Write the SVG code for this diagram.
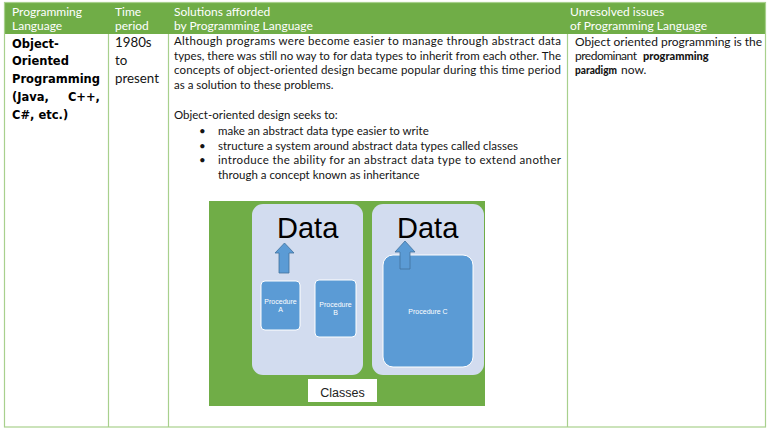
<svg xmlns="http://www.w3.org/2000/svg" width="781" height="436" viewBox="0 0 781 436">
<style>
.hd{font-family:Lato,"Liberation Sans",sans-serif;font-size:12px;fill:#ffffff}
.bd{font-family:Lato,"Liberation Sans",sans-serif;font-size:11.5px;fill:#141414}
.rc{font-family:Lato,"Liberation Sans",sans-serif;font-size:12px;fill:#141414}
.rb{font-family:Lato,"Liberation Sans",sans-serif;font-size:11px;font-weight:900;fill:#141414}
.lc{font-family:"DejaVu Sans",sans-serif;font-size:11.5px;font-weight:bold;fill:#000}
.tp{font-family:Lato,"Liberation Sans",sans-serif;font-size:13.3px;fill:#141414}
.grid{stroke:#a8d08d;stroke-width:1.2;fill:none}
.cls{fill:#d2dcef}
.proc{fill:#5b9bd5;stroke:#ffffff;stroke-width:1}
.arr{fill:#5b9bd5;stroke:#41719c;stroke-width:0.8}
.dt{font-family:"Liberation Sans",Arial,sans-serif;font-size:29px;fill:#000}
.pl{font-family:"Liberation Sans",Arial,sans-serif;font-size:7px;fill:#ffffff;text-anchor:middle}
</style>
<rect width="781" height="436" fill="#ffffff"/>
<g id="table">
<rect x="4" y="2.5" width="762" height="31.5" fill="#70ad47"/>
<rect class="grid" x="4.5" y="2.5" width="761" height="424.5"/>
<line class="grid" x1="108.5" y1="34" x2="108.5" y2="427"/>
<line class="grid" x1="168.5" y1="34" x2="168.5" y2="427"/>
<line class="grid" x1="567.5" y1="34" x2="567.5" y2="427"/>
</g>
<g id="header">
<text class="hd" x="12" y="15.5">Programming</text>
<text class="hd" x="12" y="29.5">Language</text>
<text class="hd" x="115" y="15.5">Time</text>
<text class="hd" x="115" y="29.5">period</text>
<text class="hd" x="174" y="15.5">Solutions afforded</text>
<text class="hd" x="174" y="29.5">by Programming Language</text>
<text class="hd" x="570" y="15.5">Unresolved issues</text>
<text class="hd" x="570" y="29.5">of Programming Language</text>
</g>
<g id="cell-language">
<text class="lc" x="12" y="47.5">Object-</text>
<text class="lc" x="12" y="65.3">Oriented</text>
<text class="lc" x="12" y="83.1">Programming</text>
<text class="lc" x="12" y="100.9">(Java,</text>
<text class="lc" x="100" y="100.9" text-anchor="end">C++,</text>
<text class="lc" x="12" y="118.7">C#, etc.)</text>
</g>
<g id="cell-period">
<text class="tp" x="115" y="47.3">1980s</text>
<text class="tp" x="115" y="65.1">to</text>
<text class="tp" x="115" y="82.9">present</text>
</g>
<g id="cell-solutions">
<text class="bd" x="174" y="45" textLength="387" lengthAdjust="spacing">Although programs were become easier to manage through abstract data</text>
<text class="bd" x="174" y="59.7" textLength="387" lengthAdjust="spacing">types, there was still no way to for data types to inherit from each other. The</text>
<text class="bd" x="174" y="74.4" textLength="387" lengthAdjust="spacing">concepts of object-oriented design became popular during this time period</text>
<text class="bd" x="174" y="89.1">as a solution to these problems.</text>
<text class="bd" x="174" y="119.3">Object-oriented design seeks to:</text>
<text class="bd" x="199" y="134.8">•</text>
<text class="bd" x="218" y="134.8">make an abstract data type easier to write</text>
<text class="bd" x="199" y="149.6">•</text>
<text class="bd" x="218" y="149.6">structure a system around abstract data types called classes</text>
<text class="bd" x="199" y="164.4">•</text>
<text class="bd" x="218" y="164.4" textLength="343" lengthAdjust="spacing">introduce the ability for an abstract data type to extend another</text>
<text class="bd" x="218" y="179.2">through a concept known as inheritance</text>
</g>
<g id="figure">
<rect x="209" y="201" width="276" height="205" fill="#70ad47"/>
<g id="class-1">
<rect class="cls" x="252" y="204" width="111" height="171" rx="11"/>
<text class="dt" x="277" y="238">Data</text>
<polygon class="arr" points="279,273 289,273 289,253 294,253 284.5,243 275,253 279,253"/>
<g id="procedure-a">
<rect class="proc" x="261" y="281" width="39" height="49" rx="4"/>
<text class="pl" x="280.5" y="304">Procedure</text>
<text class="pl" x="280.5" y="312">A</text>
</g>
<g id="procedure-b">
<rect class="proc" x="315" y="280" width="41" height="57" rx="4"/>
<text class="pl" x="335.5" y="307">Procedure</text>
<text class="pl" x="335.5" y="314.5">B</text>
</g>
</g>
<g id="class-2">
<rect class="cls" x="372" y="204" width="112" height="171" rx="11"/>
<text class="dt" x="397" y="238">Data</text>
<g id="procedure-c">
<rect class="proc" x="383" y="255" width="90" height="112" rx="10"/>
<text class="pl" x="428" y="314">Procedure C</text>
</g>
<polygon class="arr" points="400,269 410,269 410,252 415,252 405,241 395,252 400,252"/>
</g>
<g id="classes-label">
<rect x="308" y="379" width="69" height="23" fill="#ffffff"/>
<text x="342.5" y="397" font-family="Liberation Sans, Arial, sans-serif" font-size="12.5" fill="#222" text-anchor="middle">Classes</text>
</g>
</g>
<g id="cell-issues">
<text class="rc" x="575" y="45.5">Object oriented programming is the</text>
<text class="rc" x="575" y="59.8" textLength="62" lengthAdjust="spacing">predominant</text>
<text class="rb" x="643" y="59.8">programming</text>
<text class="rb" x="575" y="74" textLength="42" lengthAdjust="spacingAndGlyphs">paradigm</text>
<text class="rc" x="621" y="74">now.</text>
</g>
</svg>
